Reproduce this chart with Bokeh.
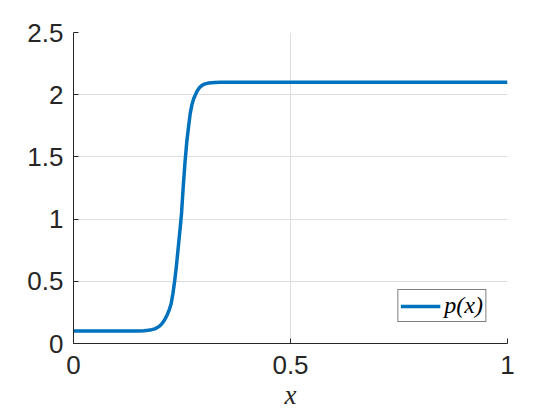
from bokeh.plotting import figure
from bokeh.models import FixedTicker, CustomJSTickFormatter, Range1d, Legend, LegendItem
from bokeh.embed import file_html
from bokeh.resources import INLINE

# data
x_vals = [0.0, 0.15, 0.162, 0.172, 0.18, 0.187, 0.193, 0.199, 0.204, 0.209, 0.213,
          0.217, 0.221, 0.225, 0.229, 0.233, 0.237, 0.241, 0.245, 0.249, 0.253,
          0.257, 0.261, 0.265, 0.269, 0.273, 0.277, 0.281, 0.285, 0.29, 0.296,
          0.303, 0.312, 0.325, 0.34, 0.36, 1.0]
p_vals = [0.1, 0.1, 0.102, 0.106, 0.111, 0.118, 0.127, 0.142, 0.16, 0.185, 0.21,
          0.24, 0.275, 0.32, 0.4, 0.5, 0.62, 0.76, 0.9, 1.05, 1.27,
          1.46, 1.62, 1.74, 1.85, 1.92, 1.97, 2.0, 2.03, 2.055, 2.075,
          2.087, 2.094, 2.098, 2.1, 2.1, 2.1]
x_ticks = [0, 0.5, 1]
y_ticks = [0, 0.5, 1, 1.5, 2, 2.5]
legend_label = "p(x)"
x_label = "x"

p = figure(width=552, height=412, output_backend="svg", toolbar_location=None,
           x_range=Range1d(0, 1), y_range=Range1d(0, 2.5),
           min_border_left=73, min_border_right=45, min_border_top=32, min_border_bottom=69)
p.outline_line_color = None
p.background_fill_color = "white"
p.border_fill_color = "white"

r = p.line(x_vals, p_vals, line_color="#0072BD", line_width=3.5)

fmt = CustomJSTickFormatter(code="return tick.toString();")
for ax, ticks in ((p.xaxis, x_ticks), (p.yaxis, y_ticks)):
    ax.ticker = FixedTicker(ticks=ticks)
    ax.formatter = fmt
    ax.axis_line_color = "#262626"
    ax.axis_line_width = 1
    ax.major_tick_line_color = "#262626"
    ax.major_tick_in = 5
    ax.major_tick_out = 0
    ax.minor_tick_line_color = None
    ax.major_label_text_font = "Liberation Sans"
    ax.major_label_text_font_size = "26px"
    ax.major_label_text_color = "#262626"

p.xaxis.major_label_standoff = 12
p.yaxis.major_label_standoff = 10
p.xaxis.axis_label = x_label
p.xaxis.axis_label_text_font = "Liberation Serif"
p.xaxis.axis_label_text_font_style = "italic"
p.xaxis.axis_label_text_font_size = "27px"
p.xaxis.axis_label_text_color = "#262626"
p.xaxis.axis_label_standoff = 3

for g in (p.xgrid, p.ygrid):
    g.grid_line_color = "#dedede"
    g.grid_line_width = 1
p.xgrid.ticker = FixedTicker(ticks=x_ticks)
p.ygrid.ticker = FixedTicker(ticks=y_ticks)

legend = Legend(items=[LegendItem(label=legend_label, renderers=[r])],
                location="bottom_right")
legend.border_line_color = "black"
legend.border_line_width = 1
legend.background_fill_color = "white"
legend.background_fill_alpha = 1
legend.padding = 2
legend.margin = 21
legend.spacing = 0
legend.glyph_width = 40
legend.glyph_height = 22
legend.label_height = 22
legend.label_standoff = 4
legend.label_text_font = "Liberation Serif"
legend.label_text_font_style = "italic"
legend.label_text_font_size = "24px"
legend.label_text_color = "black"
p.add_layout(legend, "center")

open("out.html", "w").write(file_html(p, INLINE))
